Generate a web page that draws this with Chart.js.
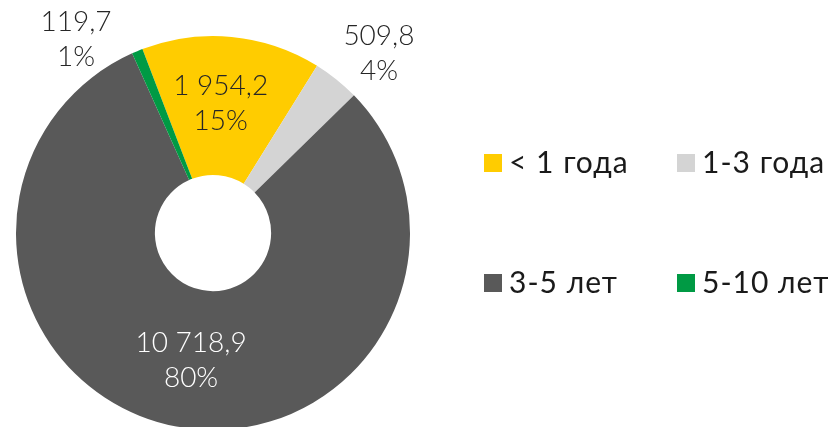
<!DOCTYPE html>
<html>
<head>
<meta charset="utf-8">
<script src="https://cdn.jsdelivr.net/npm/chart.js@4"></script>
<style>
    html, body { margin: 0; padding: 0; background: #fff; overflow: hidden; }
    #wrap { width: 833px; height: 427px; overflow: hidden; }
    #box { width: 833px; height: 440px; }
</style>
</head>
<body>
<div id="wrap"><div id="box"><canvas id="chart"></canvas></div></div>
<script>
// data
const categories = ['< 1 года', '1-3 года', '3-5 лет', '5-10 лет'];
const values = [1954.2, 509.8, 10718.9, 119.7];
const percents = [15, 4, 80, 1];

// colors
const colors = ['#ffcc00', '#d4d4d4', '#595959', '#009a44'];
const labelColors = ['#262626', '#262626', '#ffffff', '#262626'];

// label placement: [angle shift from slice middle (deg), radius factor]
const labelPlace = [[-2, 0.655], [4, 1.24], [-1, 0.66], [-12.8, 1.2]];

function fmt(v) {
    let parts = v.toFixed(1).split('.');
    let int = parts[0].replace(/\B(?=(\d{3})+(?!\d))/g, ' ');
    return int + ',' + parts[1];
}

const labelFont = '300 28px Lato';
const legendFont = '400 30px Lato';

/*
    labels + legend
*/
const extras = {
    id: 'extras',
    afterDraw(chart) {
        const ctx = chart.ctx;
        const arcs = chart.getDatasetMeta(0).data;
        ctx.save();
        ctx.textAlign = 'center';
        ctx.textBaseline = 'middle';
        ctx.font = labelFont;
        arcs.forEach((arc, i) => {
            const mid = (arc.startAngle + arc.endAngle) / 2 + labelPlace[i][0] * Math.PI / 180;
            const r = arc.outerRadius * labelPlace[i][1];
            const x = arc.x + Math.cos(mid) * r;
            const y = arc.y + Math.sin(mid) * r;
            ctx.fillStyle = labelColors[i];
            ctx.fillText(fmt(values[i]), x, y - 18);
            ctx.fillText(percents[i] + '%', x, y + 17);
        });

        // legend 2x2
        ctx.textAlign = 'left';
        ctx.textBaseline = 'alphabetic';
        ctx.font = legendFont;
        ctx.letterSpacing = '1px';
        const cols = [484, 677];
        const rows = [173, 293];
        categories.forEach((c, i) => {
            const x = cols[i % 2], y = rows[Math.floor(i / 2)];
            ctx.fillStyle = colors[i];
            ctx.fillRect(x, y - 19, 18, 18);
            ctx.fillStyle = '#1a1a1a';
            ctx.fillText(c, x + 25, y);
        });
        ctx.restore();
    }
};

const ctx_chart = document.getElementById('chart').getContext('2d');
const chart = new Chart(ctx_chart, {
    type: 'doughnut',
    data: {
        labels: categories,
        datasets: [{
            data: values,
            backgroundColor: colors,
            borderWidth: 0,
        }]
    },
    options: {
        responsive: true,
        maintainAspectRatio: false,
        animation: false,
        rotation: -21,
        cutout: '29.5%',
        layout: {
            padding: { top: 36, bottom: 10, left: 16, right: 423 }
        },
        plugins: {
            legend: { display: false },
            tooltip: { enabled: false },
        }
    },
    plugins: [extras],
});
</script>
</body>
</html>
